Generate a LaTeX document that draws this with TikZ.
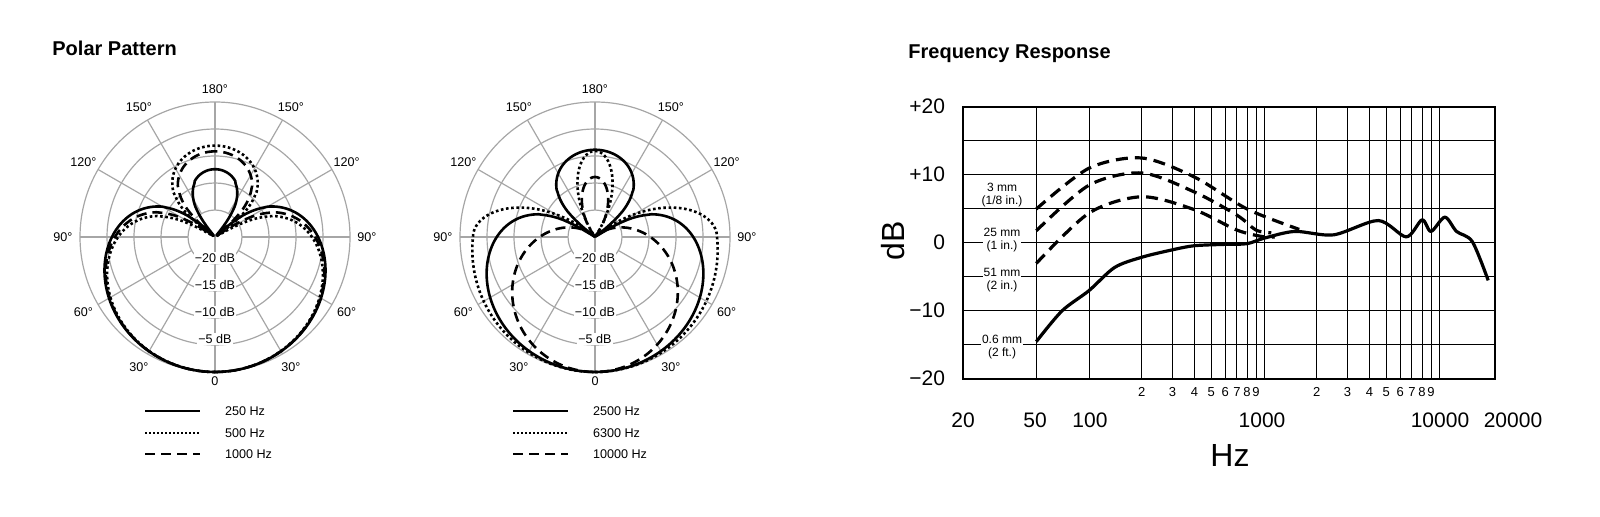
\documentclass[tikz,border=0pt]{standalone}
\usepackage{fontspec}
\setmainfont{Liberation Sans}
\begin{document}
\begin{tikzpicture}[x=0.5pt,y=-0.5pt,
  grid/.style={gray!70,line width=0.6pt},
  curve/.style={black,line width=1.3pt,line join=round},
  dotc/.style={curve,dash pattern=on 1.3pt off 1.3pt},
  dashc/.style={curve,dash pattern=on 5pt off 3pt},
  fdash/.style={black,line width=1.6pt,dash pattern=on 6pt off 3.5pt},
  fsolid/.style={black,line width=1.6pt,line join=round},
  ang/.style={font=\fontsize{6.3}{7}\selectfont},
  dbl/.style={font=\fontsize{6.3}{7}\selectfont,fill=white,inner sep=0.6pt},
  leg/.style={font=\fontsize{6.3}{7}\selectfont,anchor=west},
  title/.style={font=\fontsize{10}{12}\selectfont\bfseries,anchor=west,inner sep=0pt},
  fgrid/.style={black,line width=0.5pt},
  big/.style={font=\fontsize{10.5}{12}\selectfont},
  minor/.style={font=\fontsize{6.5}{8}\selectfont},
  dist/.style={font=\fontsize{6}{6.5}\selectfont,fill=white,inner sep=0.5pt,align=center},
  declare function={
    sr(\t,\a,\c)=max(2,135+\c*20*log10(max(abs(\a+(1-\a)*cos(\t)),0.0005)));
    lr(\t,\a)=max(0,135*(\a+(1-\a)*cos(\t)));
    er(\t)=(abs(\t)<=90) ? (122+13*cos(\t)) : (max(0,122*cos(2.27*(abs(\t)-90))));
    fx(\f)=1264+175*(log10(\f)-1);
    fy(\d)=243-6.8*\d;
  }]
\useasboundingbox (0,0) rectangle (1600,517);

\node[title] (t1) at (52,48) {Polar Pattern};
\node[title] (t2) at (908,54) {Frequency Response};

% polar grids
\foreach \cx/\nm in {215/L,595/R}{
  \foreach \r in {27,54,81,108,135} \draw[grid] (\cx,237) circle[radius=\r];
  \foreach \a in {0,30,...,330} \draw[grid] ({\cx+27*sin(\a)},{237+27*cos(\a)}) -- ({\cx+135*sin(\a)},{237+135*cos(\a)});
  \draw[grid] (\cx,237) -- (\cx,264);
  \node[ang] (\nm a0) at (\cx,381) {0};
  \node[ang] (\nm a180) at (\cx,89) {180°};
  \foreach \a in {30,60,90,120,150}{
    \node[ang] (\nm l\a) at ({\cx-152*sin(\a)},{237+150*cos(\a)}) {\a°};
    \node[ang] (\nm r\a) at ({\cx+152*sin(\a)},{237+150*cos(\a)}) {\a°};
  }
  \node[dbl] (\nm d20) at (\cx,258) {\char"2212 20 dB};
  \node[dbl] (\nm d15) at (\cx,285) {\char"2212 15 dB};
  \node[dbl] (\nm d10) at (\cx,312) {\char"2212 10 dB};
  \node[dbl] (\nm d5) at (\cx,339) {\char"2212 5 dB};
}

% left curves
\draw[curve] plot[domain=-180:180,samples=361] ({215+sr(\x,0.42,4.24)*sin(\x)},{237+sr(\x,0.42,4.24)*cos(\x)});
\draw[dotc] plot[domain=-180:180,samples=361] ({215+sr(\x,0.35,4.17)*sin(\x)},{237+sr(\x,0.35,4.17)*cos(\x)});
\draw[dashc] plot[domain=-180:180,samples=361] ({215+sr(\x,0.375,4.1)*sin(\x)},{237+sr(\x,0.375,4.1)*cos(\x)});

% right curves
\draw[curve] plot[domain=-180:180,samples=361] ({595+sr(\x,0.365,4.2)*sin(\x)},{237+sr(\x,0.365,4.2)*cos(\x)});
\draw[dotc] plot[domain=-130:130,samples=261] ({595+er(\x)*sin(\x)},{237+er(\x)*cos(\x)});
\draw[dotc] plot[domain=147:213,samples=67] ({595+86*cos(2.7*(\x-180))*sin(\x)},{237+86*cos(2.7*(\x-180))*cos(\x)});
\draw[dashc] plot[domain=-134:134,samples=269] ({595+lr(\x,0.41)*sin(\x)},{237+lr(\x,0.41)*cos(\x)});
\draw[dashc] plot[domain=144:216,samples=73] ({595+60*cos(2.5*(\x-180))*sin(\x)},{237+60*cos(2.5*(\x-180))*cos(\x)});

% legends
\foreach \x/\nm in {145/L,513/R}{
  \coordinate (\nm s1) at (\x,411); \coordinate (\nm e1) at (\x+55,411);
  \coordinate (\nm s2) at (\x,433); \coordinate (\nm e2) at (\x+55,433);
  \coordinate (\nm s3) at (\x,454); \coordinate (\nm e3) at (\x+55,454);
  \draw[curve,line width=0.9pt] (\nm s1) -- (\nm e1);
  \draw[dotc,line width=0.9pt,dash pattern=on 1pt off 1pt] (\nm s2) -- (\nm e2);
  \draw[dashc,line width=0.9pt] (\nm s3) -- (\nm e3);
}
\node[leg] (lg1) at (218,411) {250 Hz};
\node[leg] (lg2) at (218,433) {500 Hz};
\node[leg] (lg3) at (218,454) {1000 Hz};
\node[leg] (rg1) at (586,411) {2500 Hz};
\node[leg] (rg2) at (586,433) {6300 Hz};
\node[leg] (rg3) at (586,454) {10000 Hz};

% frequency grid
\foreach \d in {15,10,5,0,-5,-10,-15} \draw[fgrid] (963,{fy(\d)}) -- (1495,{fy(\d)});
\foreach \f in {0.5,1,2,3,4,5,6,7,8,9,10,20,30,40,50,60,70,80,90,100} \draw[fgrid] ({fx(\f)},107) -- ({fx(\f)},379);
\draw[fgrid,line width=0.8pt] (963,107) rectangle (1495,379);

\foreach \n/\f in {2/2,3/3,4/4,5/5,6/6,7/7,8/8,9/9} \node[minor] (ma\n) at ({fx(\f)},392) {\n};
\foreach \n/\f in {2/20,3/30,4/40,5/50,6/60,7/70,8/80,9/90} \node[minor] (mb\n) at ({fx(\f)},392) {\n};

\node[big] (x20) at (963,420) {20};
\node[big] (x50) at (1035,420) {50};
\node[big] (x100) at (1090,420) {100};
\node[big] (x1k) at (1262,420) {1000};
\node[big] (x10k) at (1440,420) {10000};
\node[big] (x20k) at (1513,420) {20000};
\node[big,anchor=east] (y20) at (952,106) {+20};
\node[big,anchor=east] (y10) at (952,174) {+10};
\node[big,anchor=east] (y0) at (952,242) {0};
\node[big,anchor=east] (ym10) at (952,310) {\char"2212 10};
\node[big,anchor=east] (ym20) at (952,378) {\char"2212 20};
\node[font=\fontsize{16}{18}\selectfont,rotate=90] (dB) at (893,241) {dB};
\node[font=\fontsize{16}{18}\selectfont] (Hz) at (1230,455) {Hz};

\node[dist] (m3) at (1002,195) {3 mm\\(1/8 in.)};
\node[dist] (m25) at (1002,240) {25 mm\\(1 in.)};
\node[dist] (m51) at (1002,280) {51 mm\\(2 in.)};
\node[dist] (m06) at (1002,347) {0.6 mm\\(2 ft.)};

% frequency curves
\draw[fdash] plot[smooth] coordinates {({fx(0.5)},{fy(5)}) ({fx(1)},{fy(11)}) ({fx(2)},{fy(12.5)}) ({fx(4)},{fy(9.7)}) ({fx(8)},{fy(5)}) ({fx(15.9)},{fy(2)})};
\draw[fdash] plot[smooth] coordinates {({fx(0.5)},{fy(1.8)}) ({fx(1)},{fy(8.5)}) ({fx(2)},{fy(10.3)}) ({fx(4)},{fy(7.5)}) ({fx(7)},{fy(4.1)}) ({fx(9)},{fy(1.9)}) ({fx(11)},{fy(1.5)})};
\draw[fdash] plot[smooth] coordinates {({fx(0.5)},{fy(-3)}) ({fx(1)},{fy(4.4)}) ({fx(2)},{fy(6.8)}) ({fx(4)},{fy(4.9)}) ({fx(7)},{fy(1.9)}) ({fx(10)},{fy(0.9)}) ({fx(11.5)},{fy(0.9)})};
\draw[fsolid] plot[smooth,tension=0.5] coordinates {({fx(0.5)},{fy(-14.5)}) ({fx(0.7)},{fy(-10)}) ({fx(1)},{fy(-7)}) ({fx(1.4)},{fy(-3.6)}) ({fx(2)},{fy(-2.1)}) ({fx(3)},{fy(-1)}) ({fx(4)},{fy(-0.4)}) ({fx(6)},{fy(-0.2)}) ({fx(8)},{fy(-0.1)}) ({fx(10)},{fy(0.7)}) ({fx(15)},{fy(1.7)}) ({fx(25)},{fy(1.2)}) ({fx(45)},{fy(3.3)}) ({fx(65)},{fy(0.9)}) ({fx(80)},{fy(3.4)}) ({fx(90)},{fy(1.7)}) ({fx(108)},{fy(3.8)}) ({fx(126)},{fy(1.7)}) ({fx(155)},{fy(0.2)}) ({fx(191)},{fy(-5.5)})};
\end{tikzpicture}
\end{document}
